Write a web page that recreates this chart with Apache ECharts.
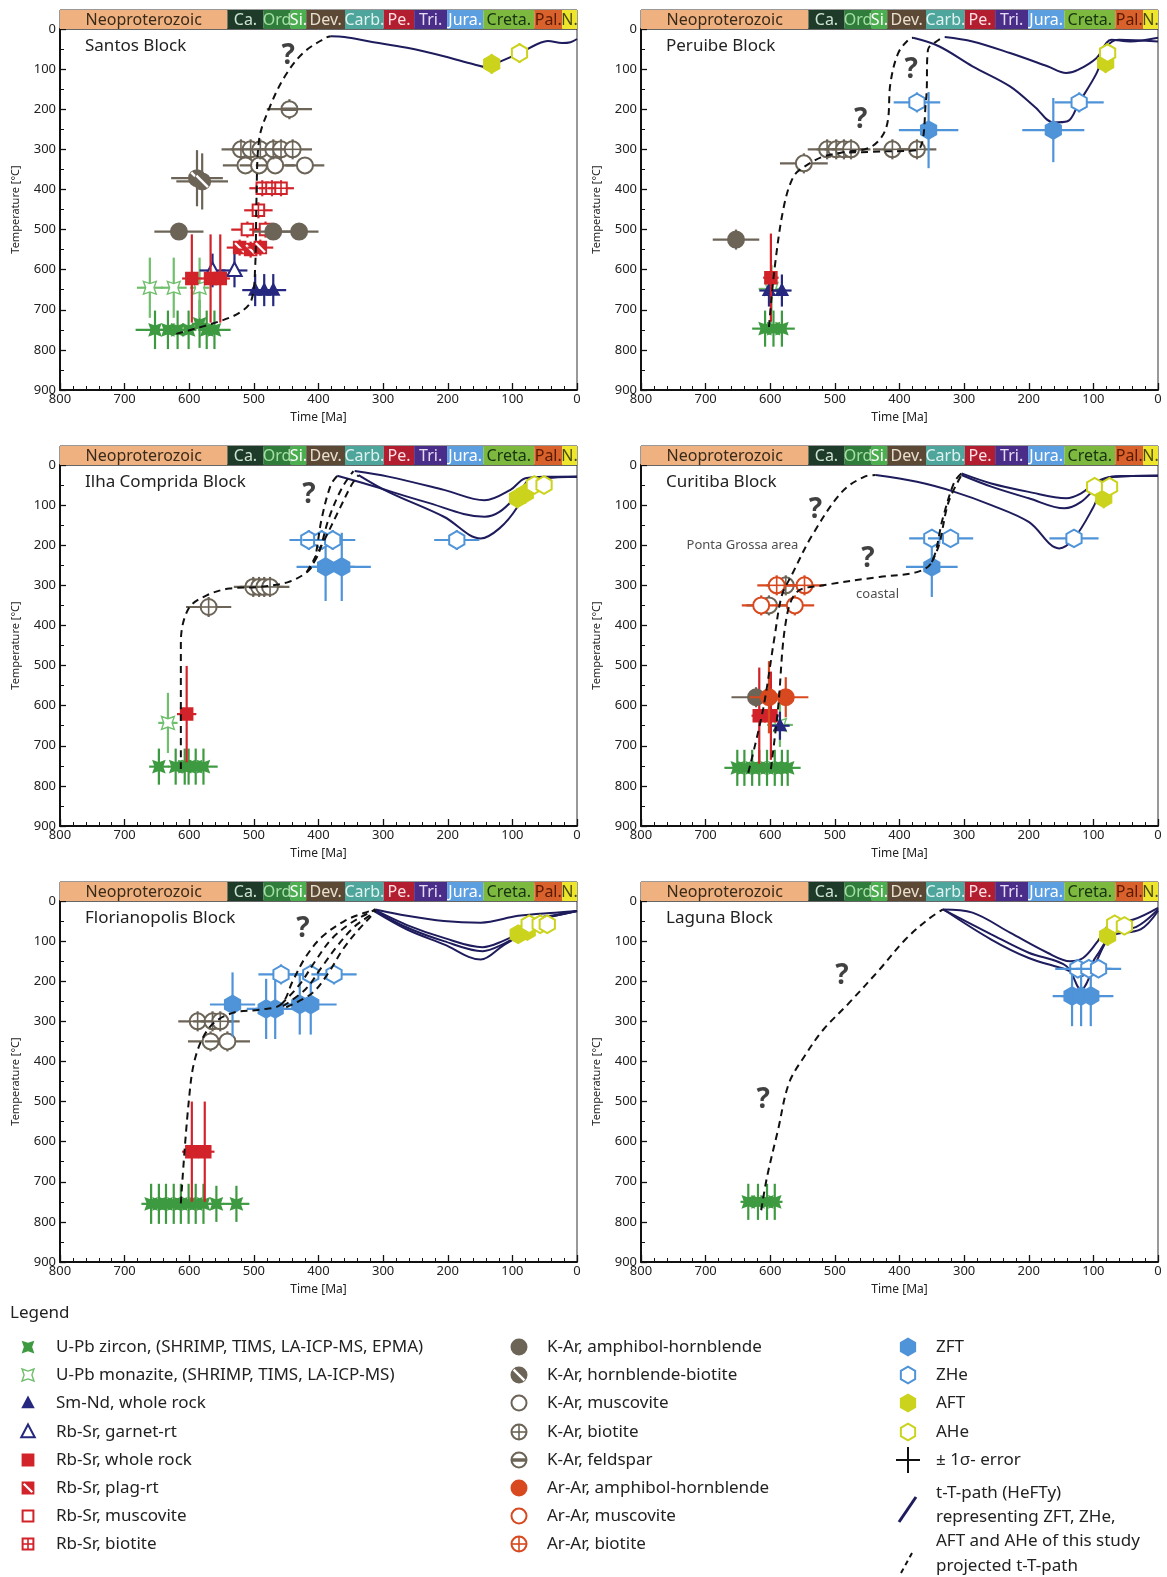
<!DOCTYPE html>
<html>
<head>
<meta charset="utf-8">
<script src="https://cdn.jsdelivr.net/npm/echarts@6/dist/echarts.min.js"></script>
<style>
  html, body { margin: 0; padding: 0; background: #fff; }
  #chart { width: 1167px; height: 1577px; }
</style>
</head>
<body>
<div id="chart"></div>
<script>
const FONT = '"Noto Sans", "Open Sans", sans-serif';

const blocks = ['Santos Block', 'Peruibe Block', 'Ilha Comprida Block', 'Curitiba Block', 'Florianopolis Block', 'Laguna Block'];

// geological time scale, Ma
const periodNames = ['Neoproterozoic', 'Ca.', 'Ord', 'Si.', 'Dev.', 'Carb.', 'Pe.', 'Tri.', 'Jura.', 'Creta.', 'Pal.', 'N.'];
const periodStart = [800, 541, 485, 443, 419, 359, 299, 252, 201, 145, 66, 23];
const periodEnd = [541, 485, 443, 419, 359, 299, 252, 201, 145, 66, 23, 0];
const periodColors = ['#efb17f', '#1d3b28', '#2f7c3b', '#4caf4f', '#5b4935', '#4ea59b', '#b21d30', '#4a2d88', '#5c9fe0', '#7db83f', '#d9612b', '#ede62c'];
const periodText = ['#3a2a1a', '#cfe3d2', '#a4e0a4', '#ffffff', '#eadfcf', '#dff3f0', '#ffe0e4', '#e4dcf5', '#ffffff', '#173312', '#5a1a00', '#4a4a10'];

// [panel, time Ma, temperature °C, ±time, ±temp]
const uPbZircon = [
  [0, 653, 750, 30, 48], [0, 633, 750, 12, 48], [0, 618, 750, 12, 48], [0, 601, 750, 12, 48], [0, 584, 735, 12, 60], [0, 573, 750, 12, 48], [0, 561, 750, 25, 48],
  [1, 608, 747, 20, 45], [1, 595, 747, 12, 45], [1, 582, 747, 20, 45],
  [2, 647, 752, 15, 45], [2, 621, 752, 12, 45], [2, 607, 752, 12, 45], [2, 601, 752, 12, 45], [2, 590, 752, 12, 45], [2, 578, 752, 22, 45],
  [3, 651, 755, 20, 45], [3, 640, 755, 12, 45], [3, 628, 755, 12, 45], [3, 617, 755, 12, 45], [3, 605, 755, 12, 45], [3, 593, 755, 12, 45], [3, 582, 755, 12, 45], [3, 573, 755, 20, 45],
  [4, 659, 755, 15, 50], [4, 647, 755, 12, 50], [4, 636, 755, 12, 50], [4, 624, 755, 12, 50], [4, 613, 755, 12, 50], [4, 601, 755, 12, 50], [4, 590, 755, 12, 50], [4, 578, 755, 12, 50], [4, 558, 755, 12, 45], [4, 527, 755, 20, 45],
  [5, 634, 750, 12, 45], [5, 619, 750, 12, 45], [5, 605, 750, 12, 45], [5, 593, 750, 12, 45]
];
const uPbMonazite = [
  [0, 661, 645, 20, 75], [0, 624, 645, 20, 75], [0, 584, 645, 15, 75],
  [1, 598, 648, 20, 60],
  [2, 633, 643, 15, 75],
  [3, 585, 648, 20, 55]
];
const smNdWhole = [
  [0, 498, 651, 20, 40], [0, 484, 651, 20, 40], [0, 470, 651, 20, 40],
  [1, 602, 652, 15, 40], [1, 582, 652, 15, 40],
  [3, 585, 650, 15, 35]
];
const rbSrGarnet = [[0, 564, 602, 20, 42], [0, 530, 602, 20, 42]];
const rbSrWhole = [
  [0, 596, 622, 15, 110], [0, 567, 622, 15, 110], [0, 552, 622, 15, 110],
  [1, 599, 620, 12, 110],
  [2, 604, 621, 15, 120],
  [3, 617, 625, 12, 120], [3, 599, 625, 12, 110],
  [4, 596, 625, 15, 125], [4, 576, 625, 15, 125]
];
const rbSrPlag = [[0, 522, 545, 20, 20], [0, 505, 550, 20, 20], [0, 490, 545, 20, 20]];
const rbSrMusc = [[0, 510, 500, 25, 20], [0, 482, 500, 25, 20]];
const rbSrBiot = [[0, 487, 397, 20, 20], [0, 472, 397, 20, 20], [0, 458, 397, 20, 20], [0, 493, 452, 22, 20]];
const kArAmph = [[0, 616, 505, 38, 20], [0, 470, 505, 30, 20], [0, 430, 505, 30, 20], [1, 653, 525, 36, 25], [3, 622, 579, 38, 25]];
const kArHbBt = [[0, 588, 372, 40, 70], [0, 580, 380, 40, 70]];
const kArMusc = [
  [0, 513, 340, 35, 20], [0, 492, 340, 30, 20], [0, 467, 340, 30, 20], [0, 421, 340, 30, 20],
  [1, 548, 335, 37, 25],
  [3, 602, 350, 35, 25],
  [4, 567, 350, 35, 25], [4, 541, 350, 35, 25]
];
const kArBiot = [
  [0, 520, 300, 30, 25], [0, 505, 300, 30, 25], [0, 490, 300, 30, 25], [0, 470, 300, 30, 25], [0, 458, 300, 30, 25], [0, 440, 300, 30, 25],
  [1, 512, 300, 30, 25], [1, 498, 300, 30, 25], [1, 486, 300, 30, 25], [1, 475, 300, 30, 25], [1, 411, 300, 30, 25], [1, 373, 300, 30, 25],
  [2, 570, 354, 35, 25], [2, 501, 304, 30, 25], [2, 492, 304, 30, 25], [2, 484, 304, 30, 25], [2, 475, 304, 30, 25],
  [3, 576, 300, 30, 25],
  [4, 587, 300, 30, 25], [4, 564, 300, 30, 25], [4, 552, 300, 30, 25]
];
const kArFeld = [[0, 445, 200, 35, 25]];
const arArAmph = [[3, 602, 579, 30, 90], [3, 576, 579, 35, 50]];
const arArMusc = [[3, 614, 350, 30, 25], [3, 562, 350, 30, 25]];
const arArBiot = [[3, 590, 300, 30, 25], [3, 547, 300, 30, 25]];
const zft = [
  [1, 355, 252, 46, 95], [1, 162, 252, 48, 80],
  [2, 389, 254, 45, 85], [2, 364, 254, 45, 85],
  [3, 350, 254, 40, 75],
  [4, 533, 258, 35, 80], [4, 481, 269, 30, 75], [4, 467, 269, 30, 75], [4, 429, 258, 30, 75], [4, 412, 258, 40, 75],
  [5, 133, 237, 30, 75], [5, 119, 237, 30, 75], [5, 104, 237, 35, 75]
];
const zhe = [
  [1, 373, 183, 36, 25], [1, 122, 183, 38, 25],
  [2, 415, 187, 30, 25], [2, 395, 187, 30, 25], [2, 378, 187, 35, 25], [2, 186, 187, 35, 25],
  [3, 350, 183, 35, 20], [3, 321, 183, 35, 20], [3, 130, 183, 38, 20],
  [4, 458, 183, 35, 25], [4, 412, 183, 35, 25], [4, 376, 183, 35, 25],
  [5, 124, 169, 35, 20], [5, 107, 169, 35, 20], [5, 92, 169, 35, 20]
];
const aft = [[0, 132, 87, 12, 25], [1, 81, 85, 10, 25], [2, 92, 83, 10, 25], [2, 80, 71, 10, 25], [3, 84, 83, 10, 25], [4, 91, 83, 12, 20], [4, 77, 75, 12, 20], [5, 78, 87, 10, 25]];
const ahe = [[0, 89, 60, 12, 25], [1, 78, 60, 10, 25], [2, 66, 50, 10, 20], [2, 51, 50, 10, 20], [3, 98, 54, 10, 20], [3, 75, 54, 10, 20], [4, 74, 58, 10, 20], [4, 57, 58, 10, 20], [4, 46, 58, 10, 20], [5, 67, 58, 10, 20], [5, 52, 62, 10, 20]];

// t-T paths: [panel, [[time, temp], ...]]
const heftyPaths = [
  [0, [[381, 18], [360, 20], [321, 31], [263, 47], [206, 68], [160, 88], [140, 95], [132, 90], [89, 60], [62, 38], [45, 30], [23, 35], [10, 33], [0, 25]]],
  [1, [[330, 20], [287, 31], [229, 60], [171, 93], [142, 110], [124, 102], [95, 72], [72, 27], [43, 31], [0, 22]]],
  [1, [[379, 22], [339, 43], [287, 93], [229, 143], [190, 195], [162, 233], [140, 230], [122, 183], [95, 110], [78, 43], [61, 27], [0, 31]]],
  [2, [[344, 15], [292, 29], [206, 62], [143, 88], [103, 62], [80, 33], [51, 29], [0, 29]]],
  [2, [[371, 27], [321, 50], [235, 92], [143, 129], [120, 117], [92, 75], [69, 33], [0, 29]]],
  [2, [[338, 25], [292, 67], [206, 129], [149, 183], [120, 158], [92, 104], [74, 42], [0, 29]]],
  [3, [[437, 25], [373, 42], [315, 67], [258, 100], [200, 142], [153, 208], [130, 183], [101, 108], [84, 50], [67, 29], [0, 27]]],
  [3, [[304, 21], [258, 46], [200, 67], [142, 83], [119, 71], [95, 42], [72, 29], [0, 27]]],
  [3, [[304, 25], [258, 54], [200, 83], [145, 108], [119, 92], [92, 50], [72, 29], [0, 27]]],
  [4, [[312, 21], [263, 37], [206, 50], [149, 54], [91, 37], [34, 29], [0, 25]]],
  [4, [[312, 23], [263, 60], [206, 92], [146, 115], [115, 100], [91, 80], [63, 45], [34, 35], [0, 25]]],
  [4, [[312, 25], [263, 66], [206, 100], [146, 125], [115, 108], [91, 85], [63, 48], [34, 37], [0, 25]]],
  [4, [[312, 27], [263, 71], [206, 108], [149, 146], [115, 112], [91, 87], [63, 50], [34, 37], [0, 25]]],
  [5, [[333, 21], [287, 29], [229, 79], [171, 129], [136, 150], [116, 142], [95, 104], [72, 54], [38, 46], [0, 17]]],
  [5, [[333, 21], [258, 83], [200, 129], [142, 162], [119, 221], [101, 171], [84, 112], [67, 71], [38, 67], [0, 21]]],
  [5, [[330, 23], [258, 96], [200, 142], [142, 171], [119, 187], [95, 137], [72, 87], [27, 71], [0, 25]]]
];
const projectedPaths = [
  [0, [[620, 760], [550, 727], [521, 706], [504, 677], [498, 593], [496, 427], [492, 277], [475, 193], [452, 118], [424, 60], [389, 22], [381, 18]]],
  [1, [[602, 743], [593, 593], [579, 443], [564, 368], [547, 343], [518, 318], [489, 308], [443, 293], [420, 243], [414, 135], [402, 60], [385, 25], [379, 22]]],
  [1, [[478, 308], [420, 305], [373, 302], [359, 177], [356, 52], [339, 27], [330, 20]]],
  [2, [[613, 758], [613, 442], [601, 358], [573, 325], [538, 308], [492, 304], [447, 292], [418, 267], [407, 242], [395, 133], [381, 50], [371, 27]]],
  [2, [[418, 267], [401, 225], [384, 133], [364, 58], [346, 15]]],
  [2, [[418, 267], [395, 200], [367, 108], [349, 50], [338, 25]]],
  [3, [[634, 767], [611, 608], [593, 425], [582, 325], [567, 275], [535, 175], [489, 67], [454, 29], [437, 25]]],
  [3, [[599, 758], [588, 608], [576, 392], [559, 317], [518, 300], [431, 279], [373, 267], [350, 242], [333, 133], [315, 42], [304, 21]]],
  [3, [[350, 242], [339, 200], [324, 92], [304, 25]]],
  [4, [[613, 754], [601, 504], [590, 387], [567, 312], [533, 279], [492, 271], [458, 258], [440, 200], [420, 140], [395, 90], [360, 50], [330, 30], [312, 21]]],
  [4, [[458, 258], [430, 210], [405, 150], [380, 95], [350, 55], [325, 32], [312, 21]]],
  [4, [[455, 262], [420, 220], [395, 165], [370, 110], [345, 65], [320, 35], [312, 23]]],
  [4, [[450, 265], [410, 230], [385, 180], [362, 120], [340, 75], [320, 40], [312, 25]]],
  [5, [[614, 771], [605, 688], [588, 571], [571, 454], [547, 387], [518, 321], [478, 254], [431, 171], [391, 96], [356, 46], [333, 21]]]
];
const questionMarks = [[0, 447, 68], [1, 460, 227], [1, 382, 102], [2, 415, 75], [3, 530, 113], [3, 449, 235], [4, 424, 71], [5, 489, 187], [5, 611, 496]];
const notes = [[3, 643, 200, 'Ponta Grossa area'], [3, 434, 322, 'coastal']];

const C = {
  green: '#3d9a40', lightGreen: '#6fbf6c', navy: '#25287e', red: '#d2232a', gray: '#6c6457',
  orange: '#d8491f', blue: '#4f93d8', yellow: '#cbd31d', path: '#1e1c5c'
};
const kindColor = {
  zircon: C.green, monazite: C.lightGreen, smNd: C.navy, garnet: C.navy, rbWhole: C.red, rbPlag: C.red,
  rbMusc: C.red, rbBiot: C.red, kAmph: C.gray, kHbBt: C.gray, kMusc: C.gray, kBiot: C.gray, kFeld: C.gray,
  arAmph: C.orange, arMusc: C.orange, arBiot: C.orange, zft: C.blue, zhe: C.blue, aft: C.yellow, ahe: C.yellow
};
const kinds = [
  ['zircon', uPbZircon], ['monazite', uPbMonazite], ['smNd', smNdWhole], ['garnet', rbSrGarnet],
  ['rbWhole', rbSrWhole], ['rbPlag', rbSrPlag], ['rbMusc', rbSrMusc], ['rbBiot', rbSrBiot],
  ['kAmph', kArAmph], ['kHbBt', kArHbBt], ['kMusc', kArMusc], ['kBiot', kArBiot], ['kFeld', kArFeld],
  ['arAmph', arArAmph], ['arMusc', arArMusc], ['arBiot', arArBiot],
  ['zft', zft], ['zhe', zhe], ['aft', aft], ['ahe', ahe]
];

// ---- symbol drawing helpers ----
function ln(x1, y1, x2, y2, c, w) {
  return { type: 'line', shape: { x1, y1, x2, y2 }, style: { stroke: c, lineWidth: w } };
}
function circ(x, y, r, fill, stroke) {
  return { type: 'circle', shape: { cx: x, cy: y, r }, style: { fill, stroke, lineWidth: 2 } };
}
function sq(x, y, r, fill, stroke) {
  return { type: 'rect', shape: { x: x - r, y: y - r, width: 2 * r, height: 2 * r }, style: { fill, stroke, lineWidth: 2 } };
}
function poly(points, fill, stroke) {
  return { type: 'polygon', shape: { points }, style: { fill, stroke, lineWidth: 2 } };
}
function tri(x, y, r) {
  return [[x, y - r], [x + r * 0.9, y + r * 0.7], [x - r * 0.9, y + r * 0.7]];
}
function bowtie(x, y, r) {
  return [[x - r, y - r], [x, y - r * 0.65], [x + r, y - r], [x + r * 0.65, y], [x + r, y + r], [x, y + r * 0.65], [x - r, y + r], [x - r * 0.65, y]];
}
function hex(x, y, r) {
  const pts = [];
  for (let k = 0; k < 6; k++) {
    const a = Math.PI / 6 + k * Math.PI / 3;
    pts.push([x + r * Math.cos(a), y + r * Math.sin(a)]);
  }
  return pts;
}

function marker(kind, x, y, r) {
  const q = r * 0.72;
  switch (kind) {
    case 'zircon': return [poly(bowtie(x, y, r * 0.85), C.green, null)];
    case 'monazite': return [{ type: 'polygon', shape: { points: bowtie(x, y, r * 0.8) }, style: { fill: '#fff', stroke: C.lightGreen, lineWidth: 1.4 } }];
    case 'smNd': return [poly(tri(x, y, r), C.navy, null)];
    case 'garnet': return [poly(tri(x, y, r), '#fff', C.navy)];
    case 'rbWhole': return [sq(x, y, q, C.red, C.red)];
    case 'rbPlag': return [sq(x, y, q, C.red, C.red), ln(x - q * 0.8, y - q * 0.8, x + q * 0.8, y + q * 0.8, '#fff', 2.2)];
    case 'rbMusc': return [sq(x, y, q, '#fff', C.red)];
    case 'rbBiot': return [sq(x, y, q, '#fff', C.red), ln(x - q, y, x + q, y, C.red, 1.6), ln(x, y - q, x, y + q, C.red, 1.6)];
    case 'kAmph': return [circ(x, y, r, C.gray, C.gray)];
    case 'kHbBt': return [circ(x, y, r, C.gray, C.gray), ln(x - q, y - q, x + q, y + q, '#fff', 2.4)];
    case 'kMusc': return [circ(x, y, r, '#fff', C.gray)];
    case 'kBiot': return [circ(x, y, r, '#fff', C.gray), ln(x - r, y, x + r, y, C.gray, 1.6), ln(x, y - r, x, y + r, C.gray, 1.6)];
    case 'kFeld': return [circ(x, y, r, '#fff', C.gray), ln(x - r, y, x + r, y, C.gray, 3.5)];
    case 'arAmph': return [circ(x, y, r, C.orange, C.orange)];
    case 'arMusc': return [circ(x, y, r, '#fff', C.orange)];
    case 'arBiot': return [circ(x, y, r, '#fff', C.orange), ln(x - r, y, x + r, y, C.orange, 1.6), ln(x, y - r, x, y + r, C.orange, 1.6)];
    case 'zft': return [poly(hex(x, y, r * 1.1), C.blue, C.blue)];
    case 'zhe': return [poly(hex(x, y, r * 1.1), '#fff', C.blue)];
    case 'aft': return [poly(hex(x, y, r * 1.1), C.yellow, C.yellow)];
    case 'ahe': return [poly(hex(x, y, r * 1.1), '#fff', C.yellow)];
  }
  return [];
}

function makeRender(kind) {
  return function (params, api) {
    const t = api.value(0), T = api.value(1), dt = api.value(2), dT = api.value(3);
    const c = api.coord([t, T]);
    const a = api.coord([t + dt, T]), b = api.coord([t - dt, T]);
    const u = api.coord([t, T - dT]), d = api.coord([t, T + dT]);
    const col = kindColor[kind];
    return {
      type: 'group',
      children: [
        ln(a[0], a[1], b[0], b[1], col, 2.2),
        ln(u[0], u[1], d[0], d[1], col, 2.2)
      ].concat(marker(kind, c[0], c[1], 8))
    };
  };
}

function renderPeriodRect(params, api) {
  const i = api.value(2);
  const p0 = api.coord([api.value(0), 1]);
  const p1 = api.coord([api.value(1), 0]);
  return { type: 'rect', shape: { x: p0[0], y: p0[1], width: p1[0] - p0[0], height: p1[1] - p0[1] }, style: { fill: periodColors[i] } };
}
function renderPeriodText(params, api) {
  const i = api.value(2);
  const p0 = api.coord([api.value(0), 1]);
  const p1 = api.coord([api.value(1), 0]);
  return {
    type: 'text',
    style: {
      text: periodNames[i], x: (p0[0] + p1[0]) / 2, y: (p0[1] + p1[1]) / 2 + 1,
      fill: periodText[i], font: '16px ' + FONT, align: 'center', verticalAlign: 'middle'
    }
  };
}

// ---- layout ----
const colLeft = [60, 641];
const rowTop = [29, 465, 901];
const plotW = 517, plotH = 361, barH = 19;

const grids = [], xAxes = [], yAxes = [], titles = [], series = [];
for (let p = 0; p < 6; p++) {
  const left = colLeft[p % 2], top = rowTop[Math.floor(p / 2)];
  grids.push({ left, top, width: plotW, height: plotH, show: true, borderColor: '#333', borderWidth: 1, outerBoundsMode: 'none' });
  xAxes.push({
    gridIndex: p, type: 'value', min: 0, max: 800, interval: 100, inverse: true,
    axisLine: { show: true, onZero: false, lineStyle: { color: '#111', width: 2 } },
    axisTick: { show: true, inside: true, length: 7, lineStyle: { color: '#111', width: 1.3 } },
    minorTick: { show: true, splitNumber: 5, length: 4, lineStyle: { color: '#111', width: 1 } },
    splitLine: { show: false },
    axisLabel: { fontSize: 13, color: '#222', margin: 3, fontFamily: FONT },
    name: 'Time [Ma]', nameLocation: 'middle', nameGap: 22,
    nameTextStyle: { fontSize: 12, color: '#222', fontFamily: FONT }
  });
  yAxes.push({
    gridIndex: p, type: 'value', min: 0, max: 900, interval: 100, inverse: true,
    axisLine: { show: true, onZero: false, lineStyle: { color: '#111', width: 2 } },
    axisTick: { show: true, inside: true, length: 6, lineStyle: { color: '#111', width: 1.3 } },
    minorTick: { show: true, splitNumber: 2, length: 4, lineStyle: { color: '#111', width: 1 } },
    splitLine: { show: false },
    axisLabel: { fontSize: 13, color: '#222', margin: 4, fontFamily: FONT },
    name: 'Temperature [°C]', nameLocation: 'middle', nameGap: 39,
    nameTextStyle: { fontSize: 11, color: '#222', fontFamily: FONT }
  });
  titles.push({
    text: blocks[p], left: left + 20, top: top + 4,
    textStyle: { fontSize: 17, fontWeight: 'normal', color: '#222', fontFamily: FONT }
  });
}
// timescale bars: rectangles first, then their labels on top
for (let p = 0; p < 6; p++) {
  const left = colLeft[p % 2], top = rowTop[Math.floor(p / 2)];
  grids.push({ left, top: top - barH, width: plotW, height: barH, show: true, borderColor: '#333', borderWidth: 1, outerBoundsMode: 'none' });
  xAxes.push({ gridIndex: 6 + p, type: 'value', min: 0, max: 800, inverse: true, show: false });
  yAxes.push({ gridIndex: 6 + p, type: 'value', min: 0, max: 1, show: false });
  const periodData = periodNames.map((n, i) => [periodStart[i], periodEnd[i], i]);
  series.push({
    type: 'custom', xAxisIndex: 6 + p, yAxisIndex: 6 + p, silent: true, z: 1,
    data: periodData, encode: { x: [0, 1] }, renderItem: renderPeriodRect
  });
  series.push({
    type: 'custom', xAxisIndex: 6 + p, yAxisIndex: 6 + p, silent: true, z: 2,
    data: periodData, encode: { x: [0, 1] }, renderItem: renderPeriodText
  });
}

heftyPaths.forEach(([p, pts]) => {
  series.push({
    type: 'line', xAxisIndex: p, yAxisIndex: p, data: pts, showSymbol: false, smooth: 0.35,
    lineStyle: { color: C.path, width: 2 }, z: 3, silent: true
  });
});

kinds.forEach(([kind, rows]) => {
  for (let p = 0; p < 6; p++) {
    const data = rows.filter(r => r[0] === p).map(r => r.slice(1));
    if (!data.length) continue;
    series.push({
      type: 'custom', xAxisIndex: p, yAxisIndex: p, data, encode: { x: 0, y: 1 },
      renderItem: makeRender(kind), z: 4, silent: true
    });
  }
});

projectedPaths.forEach(([p, pts]) => {
  series.push({
    type: 'line', xAxisIndex: p, yAxisIndex: p, data: pts, showSymbol: false, smooth: 0.35,
    lineStyle: { color: '#111', width: 2, type: [7, 5] }, z: 5, silent: true
  });
});

for (let p = 0; p < 6; p++) {
  series.push({
    type: 'scatter', xAxisIndex: p, yAxisIndex: p, symbolSize: 0, silent: true, z: 6,
    data: questionMarks.filter(q => q[0] === p).map(q => [q[1], q[2]]),
    label: { show: true, position: 'inside', formatter: '?', fontSize: 28, fontWeight: 'bold', color: '#111', fontFamily: FONT }
  });
  const pn = notes.filter(n => n[0] === p);
  if (pn.length) {
    series.push({
      type: 'scatter', xAxisIndex: p, yAxisIndex: p, symbolSize: 0, silent: true, z: 6,
      data: pn.map(n => ({ value: [n[1], n[2]], name: n[3] })),
      label: { show: true, position: 'inside', formatter: '{b}', fontSize: 13, color: '#222', fontFamily: FONT }
    });
  }
}

// ---- legend ----
const legendCol1 = [
  ['zircon', 'U-Pb zircon, (SHRIMP, TIMS, LA-ICP-MS, EPMA)'],
  ['monazite', 'U-Pb monazite, (SHRIMP, TIMS, LA-ICP-MS)'],
  ['smNd', 'Sm-Nd, whole rock'],
  ['garnet', 'Rb-Sr, garnet-rt'],
  ['rbWhole', 'Rb-Sr, whole rock'],
  ['rbPlag', 'Rb-Sr, plag-rt'],
  ['rbMusc', 'Rb-Sr, muscovite'],
  ['rbBiot', 'Rb-Sr, biotite']
];
const legendCol2 = [
  ['kAmph', 'K-Ar, amphibol-hornblende'],
  ['kHbBt', 'K-Ar, hornblende-biotite'],
  ['kMusc', 'K-Ar, muscovite'],
  ['kBiot', 'K-Ar, biotite'],
  ['kFeld', 'K-Ar, feldspar'],
  ['arAmph', 'Ar-Ar, amphibol-hornblende'],
  ['arMusc', 'Ar-Ar, muscovite'],
  ['arBiot', 'Ar-Ar, biotite']
];
const legendCol3 = [['zft', 'ZFT'], ['zhe', 'ZHe'], ['aft', 'AFT'], ['ahe', 'AHe']];
const legendRows = [1347, 1375, 1403, 1432, 1460, 1488, 1516, 1544];

const gfx = [];
function legText(x, y, text) {
  gfx.push({ type: 'text', x, y, style: { text, font: '17px ' + FONT, fill: '#222', verticalAlign: 'middle' } });
}
gfx.push({ type: 'text', x: 10, y: 1313, style: { text: 'Legend', font: '17px ' + FONT, fill: '#222', verticalAlign: 'middle' } });
[[legendCol1, 28, 56], [legendCol2, 519, 547], [legendCol3, 908, 936]].forEach(([items, sx, tx]) => {
  items.forEach(([kind, label], i) => {
    gfx.push({ type: 'group', children: marker(kind, sx, legendRows[i], 7.5) });
    legText(tx, legendRows[i], label);
  });
});
// ± 1σ error
gfx.push(ln(896, legendRows[4], 920, legendRows[4], '#111', 2));
gfx.push(ln(908, legendRows[4] - 13, 908, legendRows[4] + 13, '#111', 2));
legText(936, legendRows[4], '± 1σ- error');
// HeFTy path
gfx.push(ln(899, 1522, 916, 1497, C.path, 3));
legText(936, 1493, 't-T-path (HeFTy)');
legText(936, 1517, 'representing ZFT, ZHe,');
legText(936, 1541, 'AFT and AHe of this study');
// projected path
gfx.push({ type: 'line', shape: { x1: 901, y1: 1573, x2: 912, y2: 1553 }, style: { stroke: '#111', lineWidth: 2, lineDash: [5, 4] } });
legText(936, 1566, 'projected t-T-path');

const chart = echarts.init(document.getElementById('chart'));
chart.setOption({
  animation: false,
  backgroundColor: '#fff',
  title: titles,
  grid: grids,
  xAxis: xAxes,
  yAxis: yAxes,
  series,
  graphic: { elements: gfx }
});
</script>
</body>
</html>
